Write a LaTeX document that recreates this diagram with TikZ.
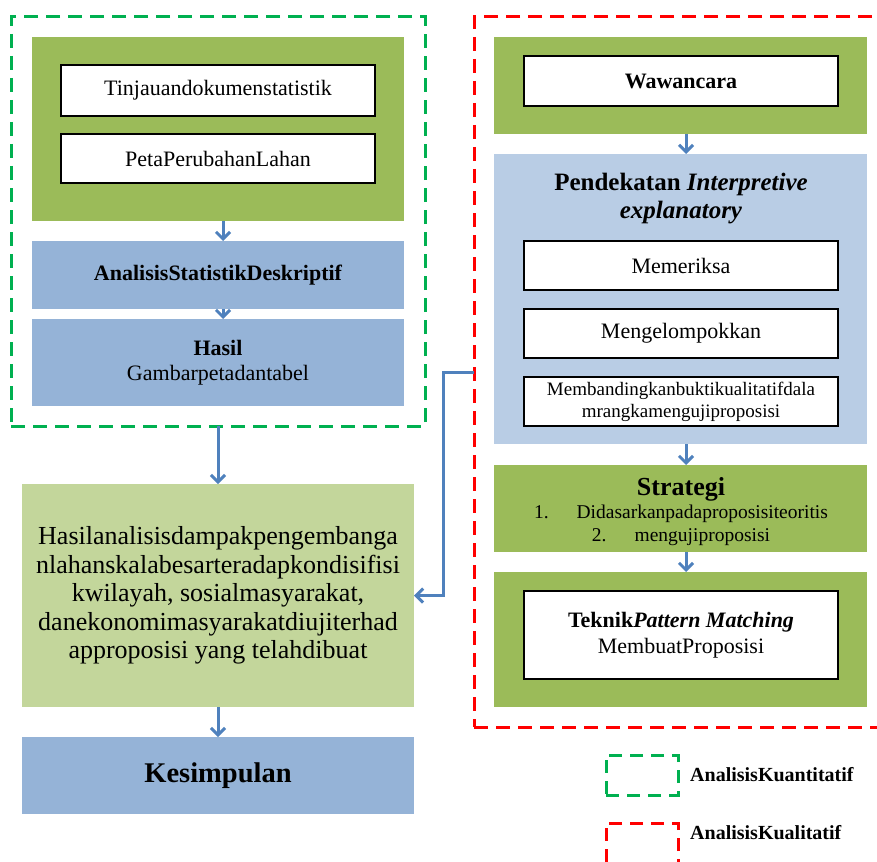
\documentclass[tikz,border=0pt]{standalone}
\usepackage{fontspec}
\setmainfont{Liberation Serif}
\usetikzlibrary{arrows.meta}
\definecolor{boxgreen}{HTML}{9BBB59}
\definecolor{boxblue}{HTML}{95B3D7}
\definecolor{paleblue}{HTML}{B9CDE5}
\definecolor{palegreen}{HTML}{C3D69B}
\definecolor{arrowblue}{HTML}{4F81BD}
\definecolor{frgreen}{HTML}{00B050}
\definecolor{frred}{HTML}{FF0000}
\newcommand\setfs[2]{\fontsize{#1}{#2}\selectfont}
\begin{document}
\begin{tikzpicture}[x=1pt,y=-1pt,
  panel/.style={inner sep=0pt, outer sep=0pt, align=center},
  whitebox/.style={fill=white, draw=black, line width=2.6pt, minimum width=314pt, inner sep=0pt, outer sep=0pt, align=center},
  flowarrow/.style={draw=arrowblue, line width=3pt, -{Straight Barb[length=7pt,width=14pt]}},
  frame/.style={line width=3pt, dash pattern=on 14pt off 8pt, inner sep=0pt, outer sep=0pt},
  legendtext/.style={anchor=west, inner sep=0pt, font=\setfs{20}{24}\bfseries}
]
\useasboundingbox (0,0) rectangle (877,861);
\clip (0,0) rectangle (877,861);
\fill[white] (0,0) rectangle (877,861);

% ---------- left (quantitative) ----------
\node[frame, draw=frgreen, minimum width=414pt, minimum height=409pt] (qn) at (218,221.5) {};
\node[panel, fill=boxgreen, minimum width=372pt, minimum height=184pt] (g1) at (218,129) {};
\node[whitebox, minimum height=51pt, font=\setfs{22}{26}] (w1) at (218,90.5) {Tinjauandokumenstatistik};
\node[whitebox, minimum height=49pt, font=\setfs{22}{26}] (w2) at (218,158.5) {PetaPerubahanLahan};
\node[panel, fill=boxblue, minimum width=372pt, minimum height=68pt, font=\setfs{22}{26}\bfseries] (b1) at (218,275) {AnalisisStatistikDeskriptif};
\node[panel, fill=boxblue, minimum width=372pt, minimum height=87pt, font=\setfs{22}{25}] (b2) at (218,362.5) {\textbf{Hasil}\\Gambarpetadantabel};

\node[panel, fill=palegreen, minimum width=392pt, minimum height=223pt, font=\setfs{26}{28.5}] (lg) at (218,595.5)
  {Hasilanalisisdampakpengembanga\\nlahanskalabesarteradapkondisifisi\\kwilayah, sosialmasyarakat,\\danekonomimasyarakatdiujiterhad\\approposisi yang telahdibuat};
\node[panel, fill=boxblue, minimum width=392pt, minimum height=77pt, font=\setfs{28.5}{32}\bfseries] (ks) at (218,775.5) {Kesimpulan};

\draw[flowarrow] ([xshift=5pt]g1.south) -- ([xshift=5pt]b1.north);
\draw[flowarrow] ([xshift=5pt]b1.south) -- ([xshift=5pt]b2.north);
\draw[flowarrow] (qn.south) -- (lg.north);
\draw[flowarrow] (lg.south) -- (ks.north);

% ---------- right (qualitative) ----------
\node[frame, draw=frred, minimum width=416pt, minimum height=710pt] (rf) at (682,372) {};
\node[panel, fill=boxgreen, minimum width=373pt, minimum height=97pt] (gw) at (680.5,85.5) {};
\node[whitebox, minimum height=50pt, font=\setfs{22}{26}\bfseries] (ww) at (681,81) {Wawancara};
\node[panel, fill=paleblue, minimum width=373pt, minimum height=290pt] (pb) at (680.5,299) {};
\node[panel, font=\setfs{25}{28}\bfseries] (pt) at (681,199) {Pendekatan \textit{Interpretive}\\\textit{explanatory}};
\node[whitebox, minimum height=49pt, font=\setfs{22}{26}] (m1) at (681,265.5) {Memeriksa};
\node[whitebox, minimum height=49pt, font=\setfs{22}{26}] (m2) at (681,333.5) {Mengelompokkan};
\node[whitebox, minimum height=49pt, font=\setfs{19}{22}] (m3) at (681,401.5) {Membandingkanbuktikualitatifdala\\mrangkamengujiproposisi};
\node[panel, fill=boxgreen, minimum width=373pt, minimum height=87pt] (st) at (680.5,508.5) {};
\node[panel, font=\setfs{19.5}{23}] (stt) at (681,512)
  {{\setfs{26}{23}\bfseries Strategi}\\1.\hspace{28pt}Didasarkanpadaproposisiteoritis\\2.\hspace{28pt}mengujiproposisi};
\node[panel, fill=boxgreen, minimum width=373pt, minimum height=135pt] (tg) at (680.5,639.5) {};
\node[whitebox, minimum height=88pt, font=\setfs{22}{26}] (tw) at (681,635) {\textbf{Teknik\textit{Pattern Matching}}\\MembuatProposisi};

\draw[flowarrow] ([xshift=5.5pt]gw.south) -- ([xshift=5.5pt]pb.north);
\draw[flowarrow] ([xshift=5.5pt]pb.south) -- ([xshift=5.5pt]st.north);
\draw[flowarrow] ([xshift=5.5pt]st.south) -- ([xshift=5.5pt]tg.north);

% connector from qualitative frame to results box
\draw[flowarrow] (rf.west) -- ++(-31,0) |- (lg.east);

% ---------- legend ----------
\node[frame, draw=frgreen, minimum width=72pt, minimum height=40pt, dash pattern=on 13pt off 8pt] (lq) at (642,775) {};
\node[legendtext] (lqt) at (690,775) {AnalisisKuantitatif};
\node[frame, draw=frred, minimum width=72pt, minimum height=40pt, dash pattern=on 13pt off 8pt] (lr) at (642,843) {};
\node[legendtext] (lrt) at (690,833) {AnalisisKualitatif};
\end{tikzpicture}
\end{document}
